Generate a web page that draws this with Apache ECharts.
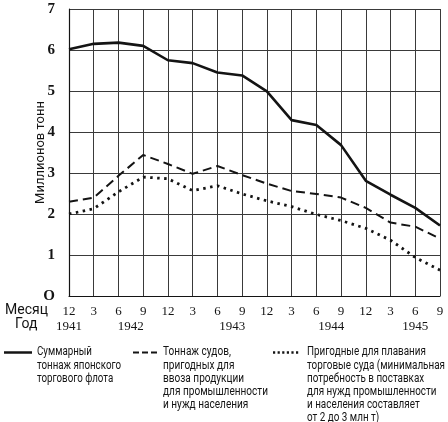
<!DOCTYPE html>
<html>
<head>
<meta charset="utf-8">
<script src="https://cdn.jsdelivr.net/npm/echarts@6/dist/echarts.min.js"></script>
<style>
html,body{margin:0;padding:0;background:#fff;}
#c{width:448px;height:422px;}
</style>
</head>
<body>
<div id="c"></div>
<script>
var months = ['12','3','6','9','12','3','6','9','12','3','6','9','12','3','6','9'];
var years = ['1941','1942','1943','1944','1945'];
var yearPos = [0, 2.5, 6.6, 10.6, 14.0];
var yTicks = ['O','1','2','3','4','5','6','7'];

var totalFleet = [6.02,6.15,6.18,6.10,5.75,5.68,5.45,5.38,4.99,4.29,4.17,3.68,2.81,2.47,2.15,1.72];
var importFit  = [2.30,2.40,2.93,3.44,3.22,2.98,3.17,2.95,2.74,2.56,2.49,2.40,2.15,1.79,1.69,1.40];
var seaworthy  = [2.00,2.13,2.54,2.90,2.86,2.57,2.69,2.49,2.32,2.18,1.99,1.84,1.65,1.36,0.94,0.63];

var seriesNames = ['Суммарный тоннаж японского торгового флота',
  'Тоннаж судов, пригодных для ввоза продукции для промышленности и нужд населения',
  'Пригодные для плавания торговые суда (минимальная потребность в поставках для нужд промышленности и населения составляет от 2 до 3 млн т)'];
var legendTexts = [
  ['Суммарный','тоннаж японского','торгового флота'],
  ['Тоннаж судов,','пригодных для','ввоза продукции','для промышленности','и нужд населения'],
  ['Пригодные для плавания','торговые суда (минимальная','потребность в поставках','для нужд промышленности','и населения составляет','от 2 до 3 млн т)']
];
var yName = 'Миллионов тонн';
var monthLabel = 'Месяц';
var yearLabel = 'Год';

var INK = '#141414';
var GRID = '#3a3a3a';
var SANS = '"Roboto", "Liberation Sans", sans-serif';
var SERIF = '"Liberation Serif", "DejaVu Serif", serif';
var LH = 13.2;
var LEG_FS = 13;

var lineStyles = [
  {width: 2.6, dash: null},
  {width: 2, dash: [9, 5]},
  {width: 2.8, dash: [2.5, 4.5]}
];
var legendIcon = [{x1: 4, x2: 32, dash: null, w: 2.5},
                  {x1: 133, x2: 157, dash: [6, 3], w: 2},
                  {x1: 273, x2: 300, dash: [2.2, 2.4], w: 2.6}];
var legendTextX = [37, 163, 307];
var legendTextW = [84, 105, 138];
var legendTop = 346;

var mctx = document.createElement('canvas').getContext('2d');
mctx.font = LEG_FS + 'px ' + SANS;
function maxWidth(lines) {
  var m = 0;
  lines.forEach(function (s) { m = Math.max(m, mctx.measureText(s).width); });
  return m;
}

var graphics = [{
  type: 'text', left: 5, top: 303,
  style: {text: monthLabel, fontFamily: SANS, fontSize: 14, fill: '#141414'}
}, {
  type: 'text', left: 15, top: 317,
  style: {text: yearLabel, fontFamily: SANS, fontSize: 14, fill: '#141414'}
}];
for (var i = 0; i < 3; i++) {
  graphics.push({
    type: 'line',
    shape: {x1: legendIcon[i].x1, y1: 352.5, x2: legendIcon[i].x2, y2: 352.5},
    style: {stroke: INK, lineWidth: legendIcon[i].w, lineDash: legendIcon[i].dash}
  });
  graphics.push({
    type: 'text', x: legendTextX[i], y: legendTop - 0.5,
    scaleX: legendTextW[i] / maxWidth(legendTexts[i]),
    style: {text: legendTexts[i].join('\n'), fontFamily: SANS, fontSize: LEG_FS,
            lineHeight: LH, fill: '#141414', verticalAlign: 'top', align: 'left'}
  });
}

var chart = echarts.init(document.getElementById('c'), null, {renderer: 'canvas'});
chart.setOption({
  backgroundColor: '#fff',
  animation: false,
  grid: {left: 69, right: 8, top: 9, bottom: 126, containLabel: false},
  xAxis: [{
    type: 'category',
    data: months,
    boundaryGap: false,
    axisLine: {show: true, lineStyle: {color: INK, width: 1.2}},
    axisTick: {show: false},
    splitLine: {show: true, interval: 0, lineStyle: {color: GRID, width: 1}},
    axisLabel: {interval: 0, margin: 9, fontFamily: SERIF, fontSize: 13, color: '#141414'}
  }, {
    type: 'value',
    min: 0, max: 15,
    position: 'bottom',
    offset: 16,
    axisLine: {show: false},
    axisTick: {show: false},
    splitLine: {show: false},
    axisLabel: {
      customValues: yearPos,
      margin: 8,
      fontFamily: SERIF, fontSize: 13, color: '#141414',
      formatter: function (v) {
        var best = 0, d = 1e9;
        for (var k = 0; k < yearPos.length; k++) {
          var dd = Math.abs(yearPos[k] - v);
          if (dd < d) { d = dd; best = k; }
        }
        return d < 0.05 ? years[best] : '';
      }
    }
  }],
  yAxis: {
    type: 'value',
    min: 0, max: 7, interval: 1,
    name: yName,
    nameLocation: 'middle',
    nameRotate: 90,
    nameGap: 22,
    nameMoveOverlap: false,
    nameTextStyle: {fontFamily: SANS, fontSize: 13, color: '#141414'},
    axisLine: {show: true, lineStyle: {color: INK, width: 1.2}},
    axisTick: {show: false},
    splitLine: {show: true, lineStyle: {color: GRID, width: 1}},
    axisLabel: {
      margin: 14, fontFamily: SERIF, fontSize: 15, fontWeight: 'bold', color: '#141414',
      formatter: function (v) { return yTicks[Math.round(v)]; }
    }
  },
  series: [totalFleet, importFit, seaworthy].map(function (d, i) {
    return {
      name: seriesNames[i], type: 'line', data: d,
      symbol: 'none', silent: true,
      lineStyle: {color: INK, width: lineStyles[i].width,
                  type: lineStyles[i].dash || 'solid', join: 'round'},
      itemStyle: {color: INK}
    };
  }),
  graphic: graphics
});
</script>
</body>
</html>
